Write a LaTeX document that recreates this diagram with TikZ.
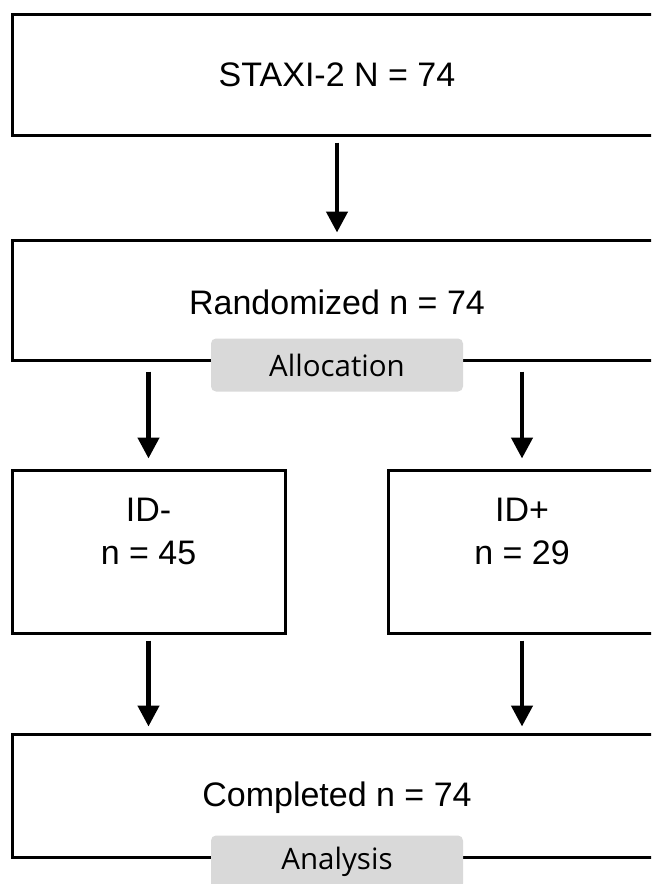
\documentclass[tikz,border=0pt]{standalone}
\usepackage{fontspec}
\setmainfont{Liberation Sans}
\newfontfamily\pillfont{Open Sans}
\usetikzlibrary{arrows.meta}
\begin{document}
\begin{tikzpicture}[x=1pt,y=-1pt,
  box/.style={draw=black, line width=3pt, fill=white, inner sep=0pt},
  txt/.style={align=center, inner sep=0pt, font=\fontsize{34}{43}\selectfont},
  pill/.style={fill=pillgray, rounded corners=5pt, minimum width=252pt, minimum height=53pt,
    inner sep=0pt, font=\pillfont\fontsize{29.5}{32}\selectfont},
  arr/.style={line width=4.5pt, -{Triangle[width=21pt,length=21pt]}, shorten <=6pt, shorten >=6pt}]
\definecolor{pillgray}{HTML}{D9D9D9}
\useasboundingbox (0,0) rectangle (651,884);
\clip (0,0) rectangle (651,884);
\node[box, minimum width=650pt, minimum height=121pt] (top) at (337,74.5) {};
\node[txt] (toptext) at (337,75) {STAXI-2 N = 74};
\node[box, minimum width=650pt, minimum height=120pt] (rand) at (337,300) {};
\node[txt] (randtext) at (337,302) {Randomized n = 74};
\node[pill] (alloc) at (337,365) {Allocation};
\node[box, minimum width=273pt, minimum height=163pt] (idm) at (148.5,551.5) {};
\node[txt] (idmtext) at (148.5,531) {ID-\\n = 45};
\node[box, minimum width=273pt, minimum height=163pt] (idp) at (524.5,551.5) {};
\node[txt] (idptext) at (522,531) {ID+\\n = 29};
\node[box, minimum width=650pt, minimum height=123pt] (comp) at (337,795.5) {};
\node[txt] (comptext) at (337,798) {Completed n = 74};
\node[pill] (anal) at (337,862) {Analysis};
\draw[arr] (top.south) -- (rand.north);
\draw[arr, shorten <=10pt, shorten >=10pt] (rand.south -| idm.north) -- (idm.north);
\draw[arr, shorten <=10pt, shorten >=10pt] (rand.south -| 522,0) -- (522,0 |- idp.north);
\draw[arr] (idm.south) -- (comp.north -| idm.south);
\draw[arr] (522,0 |- idp.south) -- (comp.north -| 522,0);
\end{tikzpicture}
\end{document}
